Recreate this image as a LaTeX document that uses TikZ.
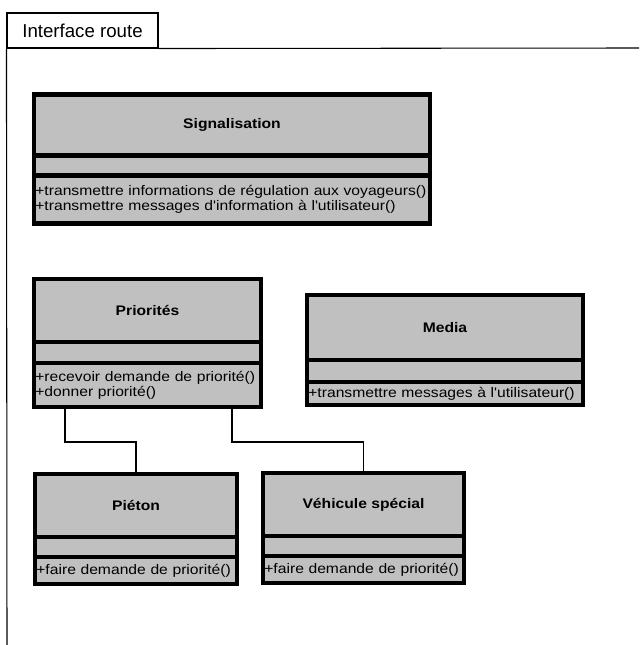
\documentclass[tikz,border=0pt]{standalone}
\usepackage{fontspec}
\setmainfont{Liberation Sans}
\newfontfamily\umlfont[FakeStretch=1.13]{Liberation Sans}
\usetikzlibrary{positioning,calc}
\definecolor{classgray}{RGB}{192,192,192}

\begin{document}
\begin{tikzpicture}[x=0.75pt,y=-0.75pt]
  \tikzstyle{compart}=[draw=black,line width=3.4pt,fill=classgray,inner sep=1pt,outer sep=0pt]
  \tikzstyle{classname}=[compart,font=\umlfont\bfseries\fontsize{10.4}{11}\selectfont]
  \tikzstyle{attrs}=[compart,below=0pt of #1]
  \tikzstyle{ops}=[compart,font=\umlfont\fontsize{10.4}{11.4}\selectfont,align=left]
  \tikzstyle{edge}=[draw=black,line width=0.8pt]
  \useasboundingbox (0,0) rectangle (639,645);

  % package frame
  \node [draw,line width=0.8pt,minimum width=113.25pt,minimum height=26.25pt,
         font=\fontsize{14}{16}\selectfont] (pkg) at (82.5,30.5) {Interface route};
  \coordinate (frameE) at (639,48);
  \coordinate (frameS) at (7,645);
  \draw [line width=0.8pt] (pkg.south east) -- (frameE);
  \draw [line width=0.8pt] (pkg.south west) -- (frameS);

  % Signalisation
  \node [classname,minimum width=297pt,minimum height=45.75pt] (sig) at (232,125) {Signalisation};
  \node [attrs=sig,minimum width=297pt,minimum height=15pt] (sigattr) {};
  \node [ops,below=0pt of sigattr,text width=295pt,minimum height=36pt] (sigops)
        {+transmettre informations de régulation aux voyageurs()\\
         +transmettre messages d'information à l'utilisateur()};

  % Priorites
  \node [classname,minimum width=170.25pt,minimum height=47.25pt] (prio) at (147.5,310.5) {Priorités};
  \node [attrs=prio,minimum width=170.25pt,minimum height=15.75pt] (prioattr) {};
  \node [ops,below=0pt of prioattr,text width=168.25pt,minimum height=33pt] (prioops)
        {+recevoir demande de priorité()\\+donner priorité()};

  % Media
  \node [classname,minimum width=207pt,minimum height=48.75pt] (media) at (445,327.5) {Media};
  \node [attrs=media,minimum width=207pt,minimum height=16.5pt] (mediaattr) {};
  \node [ops,below=0pt of mediaattr,text width=205pt,minimum height=17.25pt] (mediaops)
        {+transmettre messages à l'utilisateur()};

  % Pieton
  \node [classname,minimum width=151.5pt,minimum height=47.25pt] (pieton) at (136,505.5) {Piéton};
  \node [attrs=pieton,minimum width=151.5pt,minimum height=15pt] (pietonattr) {};
  \node [ops,below=0pt of pietonattr,text width=149.5pt,minimum height=20.25pt] (pietonops)
        {+faire demande de priorité()};

  % Vehicule special
  \node [classname,minimum width=150.75pt,minimum height=47.25pt] (vehic) at (363.5,504.5) {Véhicule spécial};
  \node [attrs=vehic,minimum width=150.75pt,minimum height=15pt] (vehicattr) {};
  \node [ops,below=0pt of vehicattr,text width=148.75pt,minimum height=20.25pt] (vehicops)
        {+faire demande de priorité()};

  % links
  \path [edge] ($(prioops.south west)+(31,0)$) -- ++(0,35) -| (pieton.north);
  \path [edge] ($(prioops.south west)+(198,0)$) -- ++(0,35) -| (vehic.north);
\end{tikzpicture}
\end{document}
